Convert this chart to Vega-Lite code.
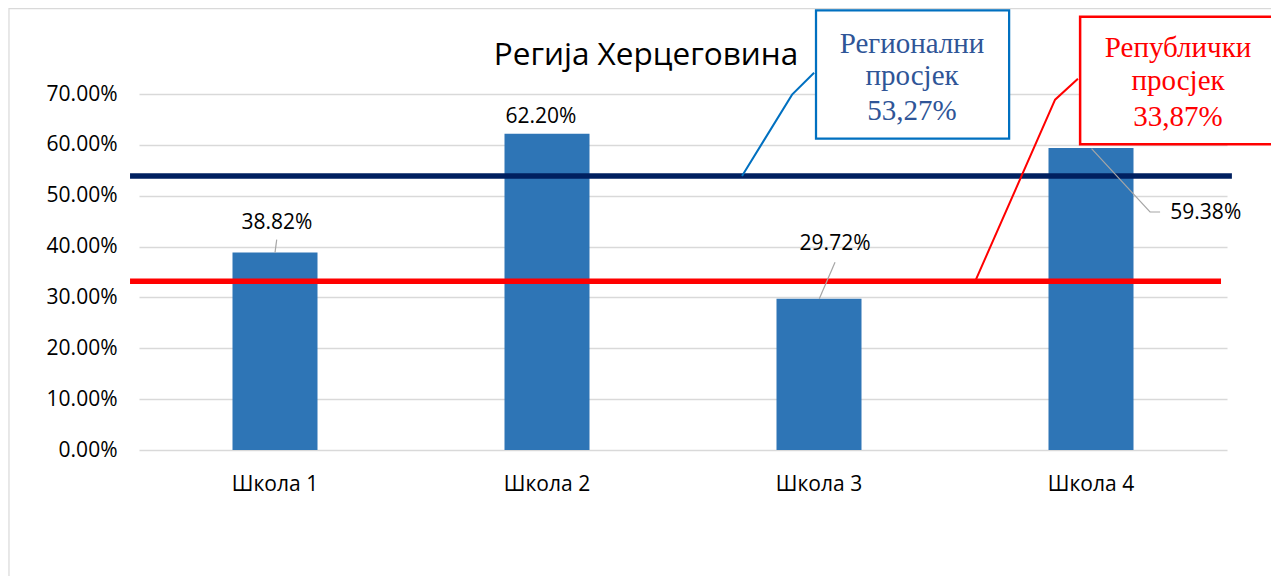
{
  "$schema": "https://vega.github.io/schema/vega-lite/v6.json",
  "autosize": "none",
  "width": 1088,
  "height": 356,
  "padding": {"left": 139, "top": 94, "right": 44, "bottom": 126},
  "background": "white",
  "config": {"view": {"stroke": null}, "font": "Open Sans"},
  "datasets": {
    "bars": [
      {"school": "Школа 1", "value": 0.3882},
      {"school": "Школа 2", "value": 0.622},
      {"school": "Школа 3", "value": 0.2972},
      {"school": "Школа 4", "value": 0.5938}
    ],
    "frame": [{"u1": -0.478, "u2": 4.8, "y1": 0.8677, "y2": -0.5}],
    "regional": [{"u1": -0.033, "u2": 4.018, "y": 0.5388}],
    "republic": [{"u1": -0.033, "u2": 3.978, "y": 0.3316}],
    "grayLeaders": [
      {"id": 1, "ord": 1, "u": 0.5063, "y": 0.4136},
      {"id": 1, "ord": 2, "u": 0.5, "y": 0.3882},
      {"id": 3, "ord": 1, "u": 2.559, "y": 0.369},
      {"id": 3, "ord": 2, "u": 2.501, "y": 0.2972},
      {"id": 4, "ord": 1, "u": 3.502, "y": 0.5925},
      {"id": 4, "ord": 2, "u": 3.717, "y": 0.468},
      {"id": 4, "ord": 3, "u": 3.754, "y": 0.468}
    ],
    "labels": [
      {"u": 0.507, "y": 0.4457, "label": "38.82%"},
      {"u": 1.478, "y": 0.6555, "label": "62.20%"},
      {"u": 2.559, "y": 0.4048, "label": "29.72%"},
      {"u": 3.922, "y": 0.4657, "label": "59.38%"}
    ],
    "blueLeader": [
      {"ord": 1, "u": 2.482, "y": 0.7419},
      {"ord": 2, "u": 2.401, "y": 0.6987},
      {"ord": 3, "u": 2.217, "y": 0.5388}
    ],
    "redLeader": [
      {"ord": 1, "u": 3.452, "y": 0.7301},
      {"ord": 2, "u": 3.368, "y": 0.6888},
      {"ord": 3, "u": 3.074, "y": 0.3316}
    ],
    "blueBox": [{"u1": 2.489, "u2": 3.199, "y1": 0.8644, "y2": 0.6122}],
    "redBox": [{"u1": 3.46, "u2": 4.3, "y1": 0.852, "y2": 0.6013}],
    "blueText": [
      {"u": 2.842, "y": 0.7806, "text": "Регионални"},
      {"u": 2.842, "y": 0.7183, "text": "просјек"},
      {"u": 2.842, "y": 0.6495, "text": "53,27%"}
    ],
    "redText": [
      {"u": 3.82, "y": 0.7728, "text": "Републички"},
      {"u": 3.82, "y": 0.7071, "text": "просјек"},
      {"u": 3.82, "y": 0.6377, "text": "33,87%"}
    ],
    "title": [{"u": 1.864, "y": 0.7576, "text": "Регија Херцеговина"}]
  },
  "layer": [
    {
      "data": {"name": "bars"},
      "mark": {"type": "bar", "color": "#2E75B6"},
      "encoding": {
        "x": {
          "field": "school", "type": "nominal", "sort": null,
          "scale": {"paddingInner": 0.6875, "paddingOuter": 0.34375},
          "axis": {"title": null, "labelAngle": 0, "domain": false, "ticks": false, "labelFontSize": 21, "labelPadding": 23, "labelColor": "#000000", "labelFont": "Open Sans", "grid": false}
        },
        "y": {
          "field": "value", "type": "quantitative",
          "scale": {"domain": [0, 0.7], "nice": false},
          "axis": {"title": null, "format": ".2%", "values": [0, 0.1, 0.2, 0.3, 0.4, 0.5, 0.6, 0.7], "domain": false, "ticks": false, "labelFontSize": 21, "labelPadding": 22, "labelColor": "#000000", "labelFont": "Open Sans", "gridColor": "#D9D9D9", "gridWidth": 1.3}
        }
      }
    },
    {
      "data": {"name": "frame"},
      "mark": {"type": "rect", "fill": "white", "fillOpacity": 0, "stroke": "#D9D9D9", "strokeWidth": 1.2},
      "encoding": {
        "x": {"field": "u1", "type": "quantitative", "scale": {"domain": [0, 4], "nice": false, "zero": false}, "axis": null},
        "x2": {"field": "u2"},
        "y": {"field": "y1", "type": "quantitative", "scale": {"domain": [0, 0.7], "nice": false}},
        "y2": {"field": "y2"}
      }
    },
    {
      "data": {"name": "regional"},
      "mark": {"type": "rule", "color": "#002060", "strokeWidth": 5.5},
      "encoding": {
        "x": {"field": "u1", "type": "quantitative", "scale": {"domain": [0, 4], "nice": false, "zero": false}, "axis": null},
        "x2": {"field": "u2"},
        "y": {"field": "y", "type": "quantitative", "scale": {"domain": [0, 0.7], "nice": false}}
      }
    },
    {
      "data": {"name": "republic"},
      "mark": {"type": "rule", "color": "#FF0000", "strokeWidth": 5.5},
      "encoding": {
        "x": {"field": "u1", "type": "quantitative", "scale": {"domain": [0, 4], "nice": false, "zero": false}, "axis": null},
        "x2": {"field": "u2"},
        "y": {"field": "y", "type": "quantitative", "scale": {"domain": [0, 0.7], "nice": false}}
      }
    },
    {
      "data": {"name": "grayLeaders"},
      "mark": {"type": "line", "color": "#A6A6A6", "strokeWidth": 1.2},
      "encoding": {
        "x": {"field": "u", "type": "quantitative", "scale": {"domain": [0, 4], "nice": false, "zero": false}, "axis": null},
        "y": {"field": "y", "type": "quantitative", "scale": {"domain": [0, 0.7], "nice": false}},
        "detail": {"field": "id"},
        "order": {"field": "ord"}
      }
    },
    {
      "data": {"name": "labels"},
      "mark": {"type": "text", "font": "Open Sans", "fontSize": 21, "color": "#000000", "align": "center", "baseline": "middle"},
      "encoding": {
        "x": {"field": "u", "type": "quantitative", "scale": {"domain": [0, 4], "nice": false, "zero": false}, "axis": null},
        "y": {"field": "y", "type": "quantitative", "scale": {"domain": [0, 0.7], "nice": false}},
        "text": {"field": "label"}
      }
    },
    {
      "data": {"name": "blueLeader"},
      "mark": {"type": "line", "color": "#0070C0", "strokeWidth": 2},
      "encoding": {
        "x": {"field": "u", "type": "quantitative", "scale": {"domain": [0, 4], "nice": false, "zero": false}, "axis": null},
        "y": {"field": "y", "type": "quantitative", "scale": {"domain": [0, 0.7], "nice": false}},
        "order": {"field": "ord"}
      }
    },
    {
      "data": {"name": "redLeader"},
      "mark": {"type": "line", "color": "#FF0000", "strokeWidth": 2},
      "encoding": {
        "x": {"field": "u", "type": "quantitative", "scale": {"domain": [0, 4], "nice": false, "zero": false}, "axis": null},
        "y": {"field": "y", "type": "quantitative", "scale": {"domain": [0, 0.7], "nice": false}},
        "order": {"field": "ord"}
      }
    },
    {
      "data": {"name": "blueBox"},
      "mark": {"type": "rect", "fill": "white", "stroke": "#0070C0", "strokeWidth": 2.25},
      "encoding": {
        "x": {"field": "u1", "type": "quantitative", "scale": {"domain": [0, 4], "nice": false, "zero": false}, "axis": null},
        "x2": {"field": "u2"},
        "y": {"field": "y1", "type": "quantitative", "scale": {"domain": [0, 0.7], "nice": false}},
        "y2": {"field": "y2"}
      }
    },
    {
      "data": {"name": "redBox"},
      "mark": {"type": "rect", "fill": "white", "stroke": "#FF0000", "strokeWidth": 2.5},
      "encoding": {
        "x": {"field": "u1", "type": "quantitative", "scale": {"domain": [0, 4], "nice": false, "zero": false}, "axis": null},
        "x2": {"field": "u2"},
        "y": {"field": "y1", "type": "quantitative", "scale": {"domain": [0, 0.7], "nice": false}},
        "y2": {"field": "y2"}
      }
    },
    {
      "data": {"name": "blueText"},
      "mark": {"type": "text", "font": "Liberation Serif", "fontSize": 29, "color": "#2F5597", "align": "center", "baseline": "alphabetic"},
      "encoding": {
        "x": {"field": "u", "type": "quantitative", "scale": {"domain": [0, 4], "nice": false, "zero": false}, "axis": null},
        "y": {"field": "y", "type": "quantitative", "scale": {"domain": [0, 0.7], "nice": false}},
        "text": {"field": "text"}
      }
    },
    {
      "data": {"name": "redText"},
      "mark": {"type": "text", "font": "Liberation Serif", "fontSize": 29, "color": "#FF0000", "align": "center", "baseline": "alphabetic"},
      "encoding": {
        "x": {"field": "u", "type": "quantitative", "scale": {"domain": [0, 4], "nice": false, "zero": false}, "axis": null},
        "y": {"field": "y", "type": "quantitative", "scale": {"domain": [0, 0.7], "nice": false}},
        "text": {"field": "text"}
      }
    },
    {
      "data": {"name": "title"},
      "mark": {"type": "text", "font": "Open Sans", "fontSize": 31.5, "color": "#000000", "align": "center", "baseline": "alphabetic"},
      "encoding": {
        "x": {"field": "u", "type": "quantitative", "scale": {"domain": [0, 4], "nice": false, "zero": false}, "axis": null},
        "y": {"field": "y", "type": "quantitative", "scale": {"domain": [0, 0.7], "nice": false}},
        "text": {"field": "text"}
      }
    }
  ],
  "resolve": {"scale": {"x": "independent"}}
}
